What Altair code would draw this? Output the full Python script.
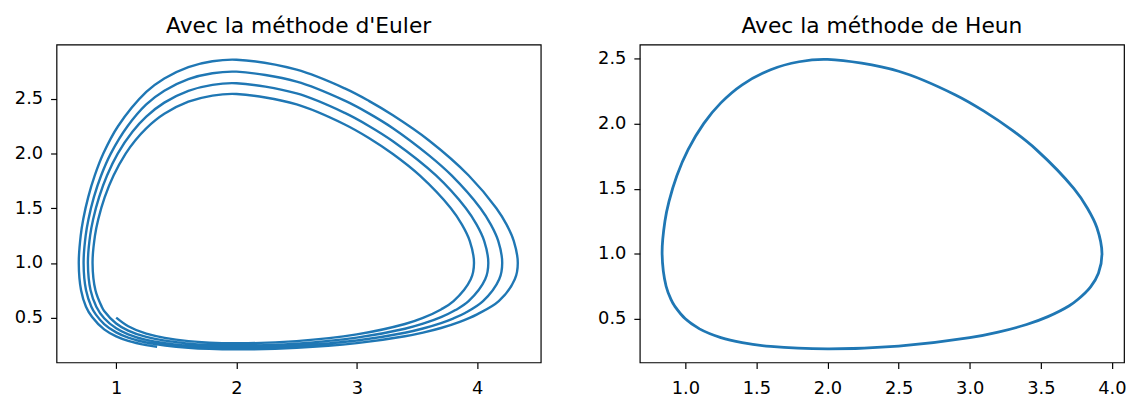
import altair as alt
import pandas as pd

# Euler trajectory (spirals outward), in drawing order
euler_x = [
    # loop 1
    1.0, 1.1, 1.25, 1.6, 2.0, 2.5, 3.0, 3.4, 3.55, 3.7, 3.804, 3.947, 3.974, 3.9392, 3.874, 3.7817,
    3.5226, 3.3, 3.1, 2.9, 2.5, 2.0, 1.8, 1.6, 1.4, 1.25, 1.158, 1.0786, 0.978, 0.904, 0.851,
    0.8236, 0.8035, 0.8275, 0.8797, 0.9,
    # loop 2
    1.0, 1.1, 1.25, 1.6, 2.0, 2.5, 3.0, 3.4, 3.55, 3.7, 3.82, 3.929, 4.067, 4.093, 4.0592, 3.996, 3.9066,
    3.6581, 3.3, 3.1, 2.9, 2.5, 2.0, 1.8, 1.6, 1.4, 1.25, 1.135, 1.0128, 0.9238, 0.8572, 0.8085,
    0.7833, 0.7649, 0.787, 0.8348, 0.9,
    # loop 3
    1.0, 1.1, 1.25, 1.6, 2.0, 2.5, 3.0, 3.4, 3.55, 3.7, 3.8, 3.9, 4.049, 4.1835, 4.2085, 4.176, 4.1144,
    4.0275, 3.7878, 3.6, 3.3, 3.1, 2.9, 2.5, 2.0, 1.8, 1.6, 1.4, 1.25, 1.0942, 0.955, 0.8748, 0.814,
    0.7695, 0.7462, 0.729, 0.7494, 0.7934, 0.83, 0.9,
    # loop 4
    1.0, 1.1, 1.25, 1.6, 2.0, 2.5, 3.0, 3.4, 3.55, 3.7, 3.85, 4.0, 4.18, 4.313, 4.338, 4.305, 4.245,
    4.16, 3.93, 3.6, 3.3, 3.1, 2.9, 2.5, 2.0, 1.8, 1.6, 1.4, 1.25, 1.015, 0.893, 0.822, 0.767,
    0.726, 0.705, 0.689, 0.708, 0.749, 0.8, 0.9,
    # last partial pass
    1.0, 1.1, 1.25, 1.34,
]
euler_y = [
    0.5, 0.4214, 0.3536, 0.2849, 0.2659, 0.2851, 0.3462, 0.4414, 0.4972, 0.5747, 0.65, 0.85, 1.0, 1.2, 1.35, 1.5,
    1.8, 1.996, 2.1428, 2.2664, 2.4498, 2.5453, 2.5307, 2.4743, 2.3636, 2.2315, 2.12, 2.0, 1.8, 1.6, 1.4,
    1.25, 1.0, 0.75, 0.6, 0.5605,
    0.4466, 0.3812, 0.3231, 0.2622, 0.2453, 0.2625, 0.3165, 0.398, 0.444, 0.504, 0.569, 0.65, 0.85, 1.0, 1.2, 1.35, 1.5,
    1.8, 2.113, 2.2529, 2.372, 2.5498, 2.643, 2.6288, 2.5737, 2.466, 2.3384, 2.2, 2.0, 1.8, 1.6, 1.4,
    1.25, 1.0, 0.75, 0.6, 0.4942,
    0.4022, 0.347, 0.2962, 0.242, 0.2267, 0.2422, 0.2903, 0.3614, 0.4003, 0.4498, 0.491, 0.542, 0.65, 0.85, 1.0, 1.2, 1.35,
    1.5, 1.8, 1.9835, 2.232, 2.368, 2.484, 2.658, 2.749, 2.735, 2.681, 2.575, 2.45, 2.25, 2.0, 1.8, 1.6,
    1.4, 1.25, 1.0, 0.75, 0.6, 0.53, 0.4413,
    0.365, 0.3172, 0.2724, 0.2238, 0.21, 0.224, 0.2672, 0.3298, 0.3633, 0.405, 0.4585, 0.53, 0.65, 0.85, 1.0, 1.2, 1.35,
    1.5, 1.8, 2.12, 2.35, 2.482, 2.596, 2.767, 2.858, 2.844, 2.791, 2.687, 2.564, 2.25, 2.0, 1.8, 1.6,
    1.4, 1.25, 1.0, 0.75, 0.6, 0.505, 0.392,
    0.328, 0.287, 0.248, 0.233,
]

# Heun trajectory (closed orbit); it runs a little past its start
heun_x = [0.924, 1.0, 1.1, 1.25, 1.4, 1.6, 2.0, 2.5, 3.0, 3.2, 3.4, 3.55, 3.7, 3.762, 3.85, 3.905, 3.93,
          3.8945, 3.8275, 3.733, 3.468, 3.3, 3.1, 2.9, 2.5, 2.0, 1.8, 1.6, 1.4, 1.25, 1.1292, 1.0197,
          0.9406, 0.885, 0.8567, 0.837, 0.865, 0.9, 0.924, 1.0, 1.1]
heun_y = [0.6, 0.5, 0.4227, 0.3556, 0.317, 0.288, 0.27, 0.2905, 0.355, 0.398, 0.4565, 0.5169, 0.6005, 0.65,
          0.7455, 0.85, 1.0, 1.2, 1.35, 1.5, 1.8, 1.9475, 2.0956, 2.22, 2.402, 2.493, 2.475, 2.414, 2.298,
          2.159, 2.0, 1.8, 1.6, 1.4, 1.25, 1.0, 0.75, 0.647, 0.6, 0.5, 0.4227]

titles = ["Avec la méthode d'Euler", "Avec la méthode de Heun"]
euler_xticks = [1, 2, 3, 4]
euler_yticks = [0.5, 1.0, 1.5, 2.0, 2.5]
heun_xticks = [1.0, 1.5, 2.0, 2.5, 3.0, 3.5, 4.0]
heun_yticks = [0.5, 1.0, 1.5, 2.0, 2.5]
euler_xdom = [0.504, 4.529]
euler_ydom = [0.09, 2.997]
heun_xdom = [0.68, 4.085]
heun_ydom = [0.165, 2.607]

FONT = "DejaVu Sans"
BLUE = "#1f77b4"

euler_df = pd.DataFrame({"x": euler_x, "y": euler_y, "i": list(range(len(euler_x)))})
heun_df = pd.DataFrame({"x": heun_x, "y": heun_y, "i": list(range(len(heun_x)))})


def panel(df, title, xdom, ydom, xticks, yticks, xfmt, sw):
    return (
        alt.Chart(
            df,
            title=alt.TitleParams(title, fontSize=22, fontWeight="normal", font=FONT,
                                  color="black", offset=7, anchor="middle"),
        )
        .mark_line(color=BLUE, strokeWidth=sw, interpolate="catmull-rom")
        .encode(
            x=alt.X("x:Q", scale=alt.Scale(domain=xdom, nice=False, zero=False),
                    axis=alt.Axis(values=xticks, format=xfmt, title=None)),
            y=alt.Y("y:Q", scale=alt.Scale(domain=ydom, nice=False, zero=False),
                    axis=alt.Axis(values=yticks, format=".1f", title=None)),
            order="i:Q",
        )
        .properties(width=489, height=321)
    )


left = panel(euler_df, titles[0], euler_xdom, euler_ydom, euler_xticks, euler_yticks, "d", 2.4)
right = panel(heun_df, titles[1], heun_xdom, heun_ydom, heun_xticks, heun_yticks, ".1f", 2.8)

chart = (
    alt.hconcat(left, right, spacing=55)
    .properties(padding={"left": 5, "top": 4, "right": 0, "bottom": 0})
    .configure_view(stroke="black", strokeWidth=1.2)
    .configure_axis(
        grid=False, domain=False, tickSize=6, tickColor="black", tickWidth=1.2,
        labelFont=FONT, labelFontSize=18, labelColor="black",
    )
    .configure_axisY(minExtent=43, maxExtent=43, labelPadding=8)
    .configure_axisX(labelPadding=11)
)

chart.save("out.html", embed_options={"renderer": "svg", "actions": False})
